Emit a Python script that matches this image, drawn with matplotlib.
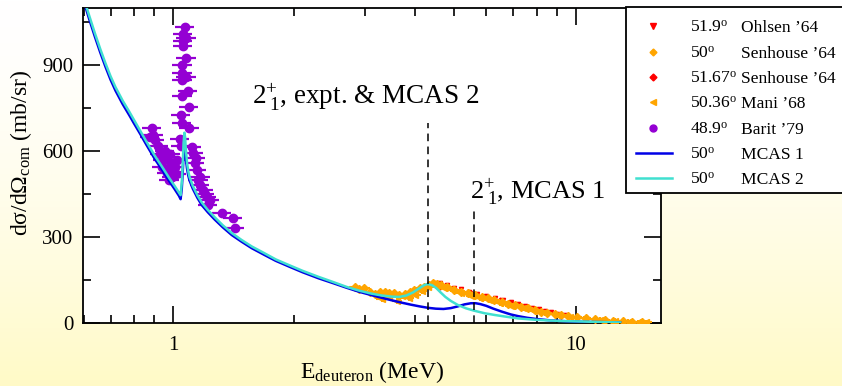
import numpy as np
import matplotlib
matplotlib.use("Agg")
import matplotlib.pyplot as plt
from matplotlib.lines import Line2D
from matplotlib.patches import Rectangle
from matplotlib.ticker import LogLocator, MultipleLocator, FixedLocator, NullFormatter

plt.rcParams['font.family'] = ['Liberation Serif', 'DejaVu Serif']
plt.rcParams['mathtext.fontset'] = 'custom'
plt.rcParams['mathtext.rm'] = 'Liberation Serif'
plt.rcParams['mathtext.it'] = 'Liberation Serif:italic'
plt.rcParams['mathtext.bf'] = 'Liberation Serif:bold'

# MCAS 1 (50 deg)
mcas1_e = [0.60, 0.62, 0.64, 0.66, 0.68, 0.70, 0.72, 0.75, 0.78, 0.80, 0.83, 0.86, 0.90, 0.94,
           0.98, 1.01, 1.035, 1.045, 1.052, 1.058, 1.063, 1.068, 1.072, 1.077, 1.084, 1.092,
           1.10, 1.12, 1.15, 1.18, 1.22, 1.27, 1.33, 1.40, 1.48, 1.57, 1.68, 1.80, 1.95, 2.10,
           2.30, 2.50, 2.70, 2.90, 3.10, 3.30, 3.50, 3.70, 3.90, 4.10, 4.30, 4.50, 4.70, 4.90,
           5.10, 5.30, 5.50, 5.65, 5.80, 6.00, 6.25, 6.55, 6.90, 7.20, 7.60, 8.10, 8.70, 9.50,
           10.5, 11.7, 12.9]
mcas1_y = [1125, 1060, 1000, 945, 895, 850, 812, 765, 725, 698, 660, 622, 575, 535,
           495, 468, 445, 433, 470, 530, 590, 625, 615, 575, 540, 515,
           498, 470, 438, 412, 388, 362, 335, 308, 285, 262, 240, 218, 197, 178,
           157, 140, 124, 110, 99, 89, 80, 72, 65, 59, 54, 51, 50, 53,
           59, 66, 70, 70, 67, 61, 51, 41, 31, 25, 19, 14, 10, 7,
           5, 4, 3]

# MCAS 2 (50 deg)
mcas2_e = [0.60, 0.62, 0.64, 0.66, 0.68, 0.70, 0.72, 0.75, 0.78, 0.80, 0.83, 0.86, 0.90, 0.94,
           0.98, 1.01, 1.035, 1.045, 1.052, 1.058, 1.063, 1.068, 1.072, 1.077, 1.084, 1.092,
           1.10, 1.12, 1.15, 1.18, 1.22, 1.27, 1.33, 1.40, 1.48, 1.57, 1.68, 1.80, 1.95, 2.10,
           2.30, 2.50, 2.70, 2.90, 3.10, 3.30, 3.50, 3.65, 3.80, 3.95, 4.10, 4.22, 4.30, 4.40,
           4.50, 4.62, 4.75, 4.90, 5.10, 5.35, 5.60, 5.95, 6.30, 6.80, 7.20, 8.00, 9.20, 10.5,
           11.7, 12.9]
mcas2_y = [1135, 1072, 1012, 957, 907, 862, 824, 777, 737, 710, 671, 633, 586, 546,
           506, 479, 456, 447, 490, 560, 630, 665, 650, 605, 560, 530,
           510, 480, 447, 421, 396, 370, 342, 315, 291, 268, 246, 223, 202, 183,
           162, 144, 127, 114, 104, 97, 93, 92, 97, 108, 123, 134, 137, 133,
           124, 108, 92, 78, 64, 52, 44, 35, 29, 22, 17, 12, 8, 6,
           4, 3]

# Barit '79 (48.9 deg)
barit_e = [1.069, 1.059, 1.079, 1.059, 1.059, 1.079, 1.055, 1.055, 1.079, 1.055, 1.089, 1.055,
           1.095, 1.045, 1.051, 1.098, 1.041, 1.045,
           0.885, 0.894, 0.877, 0.902, 0.919, 0.965, 0.946, 0.993, 0.973, 1.000, 0.965, 0.993,
           1.021, 0.930, 0.955, 0.985, 0.940, 1.010, 0.980, 1.020,
           1.113, 1.123, 1.134, 1.145, 1.156, 1.167, 1.189, 1.212, 1.235, 1.223, 1.321, 1.411,
           1.425, 1.140, 1.170, 1.200]
barit_y = [1032, 1009, 997, 984, 966, 925, 902, 873, 861, 850, 809, 792,
           754, 728, 698, 680, 642, 620,
           683, 657, 651, 639, 620, 581, 570, 558, 541, 529, 523, 511,
           570, 590, 600, 590, 545, 545, 500, 520,
           616, 593, 558, 535, 500, 482, 465, 442, 430, 413, 384, 366,
           331, 578, 510, 450]

# Senhouse '64 (50 deg)
sen50_e = [2.83, 2.90, 2.99, 3.08, 3.17, 3.26, 3.36, 3.45, 3.55, 3.65, 3.76, 3.87, 3.98, 4.10,
           4.21, 4.32, 4.42, 4.53, 4.64, 4.80, 5.00, 5.20, 5.40, 5.62, 5.85, 6.05, 6.29, 6.55,
           6.80, 7.06, 7.30, 7.60, 7.91, 8.20, 8.50, 8.87, 9.20, 9.60, 10.1, 10.6, 11.2, 11.8,
           12.4, 13.1, 13.8, 14.6]
sen50_y = [126, 118, 122, 110, 102, 108, 110, 104, 105, 100, 102, 110, 116, 122,
           128, 134, 140, 136, 134, 126, 116, 110, 104, 99, 92, 87, 81, 74,
           68, 64, 58, 52, 46, 41, 36, 32, 28, 25, 21, 17, 14, 12,
           9, 7, 6, 5]

# Mani '68 (50.36 deg)
mani_e = [3.30, 3.45, 3.60, 3.70, 3.85, 4.00, 4.15, 4.30, 4.50, 4.70, 4.90, 5.20, 5.50, 5.80,
          6.10, 6.50, 6.90, 7.40, 7.90, 8.40, 9.00, 9.70, 10.5, 11.5, 12.5, 13.5, 14.3, 15.0]
mani_y = [85, 92, 78, 95, 88, 100, 112, 125, 130, 124, 118, 104, 96, 88,
          80, 70, 62, 53, 44, 36, 29, 23, 17, 12, 8, 6, 4, 4]

# Ohlsen '64 (51.9 deg)
ohl_e = [4.45, 4.60, 4.80, 5.00, 5.20, 5.45, 5.70, 6.00, 6.30, 6.60, 6.90, 7.20, 7.50, 7.80,
         8.10, 8.40, 8.70, 9.00, 9.40]
ohl_y = [142, 140, 132, 124, 118, 110, 103, 95, 88, 80, 73, 66, 60, 54,
         49, 44, 39, 34, 30]

# Senhouse '64 (51.67 deg)
sen51_e = [4.30, 4.60, 5.00, 5.50, 6.00, 6.50, 7.00, 7.50]
sen51_y = [132, 128, 120, 106, 92, 80, 68, 58]

# resonance markers
res_e = [4.29, 5.58]
res_top = [700, 395]

leg_angles = ["51.9$^{\\rm o}$", "50$^{\\rm o}$", "51.67$^{\\rm o}$", "50.36$^{\\rm o}$",
              "48.9$^{\\rm o}$", "50$^{\\rm o}$", "50$^{\\rm o}$"]
leg_names = ["Ohlsen \u201964", "Senhouse \u201964", "Senhouse \u201964", "Mani \u201968",
             "Barit \u201979", "MCAS 1", "MCAS 2"]

c_blue = '#0000e6'
c_cyan = '#40e0d0'
c_orange = '#ffa500'
c_red = '#ff0000'
c_purple = '#9400d3'

W, H = 842, 386
fig = plt.figure(figsize=(W / 100, H / 100), dpi=100)

# background gradient
bg = fig.add_axes([0, 0, 1, 1], zorder=-10)
t = np.linspace(0, 1, 200)[:, None] ** 1.5
top = np.array([1.0, 1.0, 1.0])
bot = np.array([1.0, 0.98, 0.78])
grad = top[None, None, :] * (1 - t[..., None]) + bot[None, None, :] * t[..., None]
bg.imshow(grad, aspect='auto', extent=[0, 1, 0, 1], origin='upper')
bg.set_axis_off()

ax = fig.add_axes([83 / W, 1 - 323.3 / H, (661 - 83) / W, (323.3 - 8) / H])
ax.set_facecolor('white')
ax.set_xscale('log')

rel_x_barit = 0.055
rel_x_orange = 0.03

ax.errorbar(barit_e, barit_y, xerr=np.array(barit_e) * rel_x_barit, yerr=14,
            fmt='o', ms=6, color=c_purple, ecolor=c_purple, elinewidth=1.6, capsize=0, zorder=3)
ax.errorbar(mani_e, mani_y, xerr=np.array(mani_e) * rel_x_orange, yerr=9,
            fmt='<', ms=4.5, color=c_orange, ecolor=c_orange, elinewidth=1.5, capsize=0, zorder=3)
ax.errorbar(sen50_e, sen50_y, xerr=np.array(sen50_e) * rel_x_orange, yerr=10,
            fmt='D', ms=4, color=c_orange, ecolor=c_orange, elinewidth=1.5, capsize=0, zorder=3)
ax.errorbar(ohl_e, ohl_y, yerr=4, fmt='v', ms=3, color=c_red, ecolor=c_red,
            elinewidth=0.8, capsize=0, zorder=2)
ax.errorbar(sen51_e, sen51_y, yerr=4, fmt='D', ms=2.5, color=c_red, ecolor=c_red,
            elinewidth=0.8, capsize=0, zorder=2)

ax.plot(mcas1_e, mcas1_y, color=c_blue, lw=1.8, zorder=4)
ax.plot(mcas2_e, mcas2_y, color=c_cyan, lw=1.8, zorder=5)

ax.vlines(res_e, 0, res_top, colors='black', linestyles=(0, (5, 3.5)), lw=1.1, zorder=6)

ax.text(1.57, 765, "2$^{+}_{\\;1}$, expt. & MCAS 2", fontsize=19.5, va='baseline', ha='left')
ax.text(5.46, 437, "2$^{+}_{\\;1}$, MCAS 1", fontsize=19, va='baseline', ha='left')

ax.set_xlim(0.598, 16.3)
ax.set_ylim(0, 1100)
ax.xaxis.set_major_locator(FixedLocator([1, 10]))
ax.xaxis.set_major_formatter(plt.FixedFormatter(['1', '10']))
ax.xaxis.set_minor_locator(LogLocator(base=10, subs=np.arange(2, 10)))
ax.xaxis.set_minor_formatter(NullFormatter())
ax.yaxis.set_major_locator(MultipleLocator(300))
ax.yaxis.set_minor_locator(MultipleLocator(150))
ax.tick_params(which='both', direction='in', top=True, right=True, width=1.2, labelsize=15)
ax.tick_params(which='major', length=12)
ax.tick_params(axis='x', which='major', pad=9)
ax.tick_params(axis='y', which='major', pad=7)
ax.tick_params(which='minor', length=5.5)
for s in ax.spines.values():
    s.set_linewidth(1.3)

ax.set_xlabel("E$_{\\rm deuteron}$ (MeV)", fontsize=17, labelpad=3)
ax.set_ylabel("d\u03c3/d\u03a9$_{\\rm com}$ (mb/sr)", fontsize=17)
ax.yaxis.set_label_coords(-0.085, 0.54)

# legend box drawn in figure pixels
def fx(px):
    return px / W

def fy(py):
    return 1 - py / H

fig.add_artist(Rectangle((fx(626), fy(193)), fx(860) - fx(626), fy(7) - fy(193),
                         transform=fig.transFigure, facecolor='white', edgecolor='black',
                         lw=1.3, zorder=20, clip_on=False))
leg_styles = [dict(marker='v', color=c_red, ms=4.5, ls='none'),
              dict(marker='D', color=c_orange, ms=3.5, ls='none'),
              dict(marker='D', color=c_red, ms=3.5, ls='none'),
              dict(marker='<', color=c_orange, ms=4.5, ls='none'),
              dict(marker='o', color=c_purple, ms=5, ls='none'),
              dict(color=c_blue, lw=1.8),
              dict(color=c_cyan, lw=1.8)]
row_y = [26, 51.7, 76.7, 101.7, 127.7, 152.7, 177.7]
for ry, st, ang, name in zip(row_y, leg_styles, leg_angles, leg_names):
    if st.get('ls') == 'none':
        xs = [fx(653)]
    else:
        xs = [fx(636), fx(672)]
    fig.add_artist(Line2D(xs, [fy(ry)] * len(xs), transform=fig.transFigure, zorder=21, **st))
    fig.text(fx(690), fy(ry + 6), ang, fontsize=12.6, va='baseline', ha='left', zorder=21)
    fig.text(fx(741), fy(ry + 6), name, fontsize=12.6, va='baseline', ha='left', zorder=21)

fig.savefig('out.png', dpi=100)
